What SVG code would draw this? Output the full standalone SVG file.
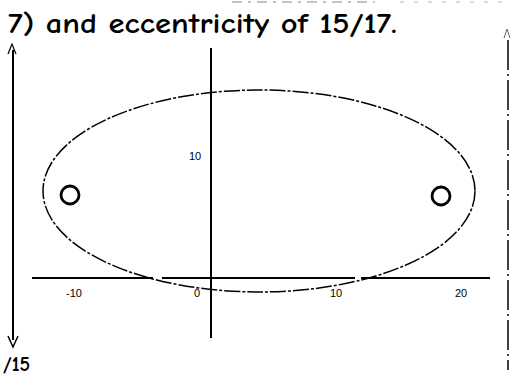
<svg xmlns="http://www.w3.org/2000/svg" width="517" height="377" viewBox="0 0 517 377">
<style>
.t{font-family:"Comic Neue","Liberation Sans",sans-serif;fill:#000;font-weight:bold}
.ax{stroke:#000;stroke-width:2;fill:none}
.lab{font-family:"Liberation Sans",sans-serif;font-size:11px;fill:#000}
</style>
<rect width="517" height="377" fill="#fff"/>
<path d="M232 2 H375" stroke="#888" stroke-width="1.2" stroke-dasharray="10 6 3 6"/>
<path d="M400 2 H510" stroke="#bbb" stroke-width="1" stroke-dasharray="4 10"/>
<text class="t" x="8" y="33" font-size="29" textLength="389" lengthAdjust="spacingAndGlyphs">7) and eccentricity of 15/17.</text>
<!-- left double arrow -->
<path d="M13 50 V340" class="ax"/>
<path d="M8 54 L12 44 L16 54" stroke="#000" stroke-width="1.2" fill="none"/>
<path d="M8 336 L13 347 L18 336" stroke="#000" stroke-width="1.5" fill="none"/>
<!-- right dashed arrow -->
<path d="M508 40 V370" stroke="#000" stroke-width="1.5" stroke-dasharray="30 4 2 4" fill="none"/>
<path d="M504 38 L507 29 L510 38" stroke="#666" stroke-width="1" fill="none"/>
<!-- axes -->
<path d="M211 48 V338" class="ax"/>
<path d="M32 278 H153 M162 278 H355 M361 278 H490" class="ax"/>
<!-- ellipse -->
<ellipse cx="259" cy="191" rx="216" ry="101" fill="none" stroke="#000" stroke-width="1.5" stroke-dasharray="16 2 3 2"/>
<!-- foci -->
<circle cx="70" cy="195" r="9" fill="none" stroke="#000" stroke-width="2.8"/>
<circle cx="441" cy="196" r="9" fill="none" stroke="#000" stroke-width="2.8"/>
<!-- labels -->
<text class="lab" x="189" y="160">10</text>
<text class="lab" x="66" y="297">-10</text>
<text class="lab" x="194" y="297">0</text>
<text class="lab" x="330" y="297">10</text>
<text class="lab" x="455" y="297">20</text>
<text class="t" x="3" y="371" font-size="20">/15</text>
</svg>
